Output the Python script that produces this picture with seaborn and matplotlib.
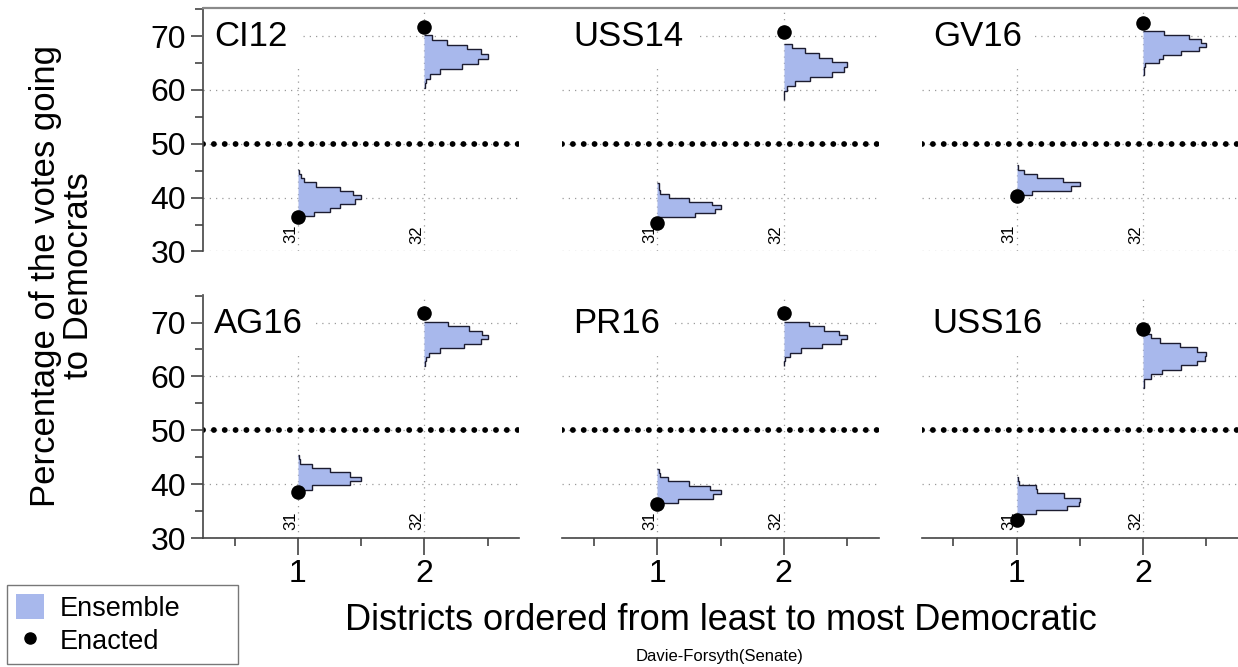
"""Ensemble vs enacted vote shares, Davie-Forsyth senate districts, six elections."""

import numpy as np
import pandas as pd
import matplotlib
matplotlib.use("Agg")
import matplotlib.pyplot as plt
from matplotlib.patches import Patch
from matplotlib.lines import Line2D
import seaborn as sns

# ── data ─────────────────────────────────────────────────────────────────────

ELECTIONS = ["CI12", "USS14", "GV16", "AG16", "PR16", "USS16"]
DISTRICTS = ["31", "32"]

# enacted plan, % Democratic
ENACTED_31 = [36.4, 35.2, 40.3, 38.6, 36.4, 33.3]
ENACTED_32 = [71.7, 70.8, 72.5, 71.7, 71.7, 68.8]

# ensemble histograms: vote-share range and relative bin heights (low -> high)
HIST31_RANGE = [(36.5, 45.2), (35.7, 42.8), (40.5, 46.0), (39.0, 45.4), (36.5, 42.9), (34.4, 41.4)]
HIST31 = [
    [0.25, 0.5, 0.67, 0.9, 1.0, 0.87, 0.67, 0.28, 0.1, 0.05, 0.02],
    [0.03, 0.6, 0.92, 1.0, 0.86, 0.5, 0.18, 0.04, 0.02, 0.02],
    [0.25, 0.86, 1.0, 0.73, 0.33, 0.12, 0.03],
    [0.23, 0.83, 1.0, 0.83, 0.5, 0.23, 0.04, 0.02],
    [0.33, 0.88, 1.0, 0.83, 0.5, 0.17, 0.04, 0.02],
    [0.3, 0.8, 0.98, 1.0, 0.75, 0.33, 0.3, 0.04, 0.02],
]
HIST32_RANGE = [(60.3, 70.2), (58.1, 68.6), (62.8, 71.0), (62.0, 70.1), (62.0, 70.1), (57.9, 67.9)]
HIST32 = [
    [0.01, 0.02, 0.09, 0.25, 0.6, 0.85, 1.0, 0.9, 0.68, 0.35, 0.12],
    [0.01, 0.01, 0.05, 0.18, 0.42, 0.76, 0.95, 1.0, 0.76, 0.55, 0.34, 0.13],
    [0.01, 0.01, 0.03, 0.25, 0.32, 0.6, 0.89, 1.0, 0.91, 0.73, 0.33],
    [0.01, 0.02, 0.08, 0.25, 0.62, 0.89, 1.0, 0.91, 0.7, 0.37],
    [0.01, 0.02, 0.1, 0.27, 0.6, 0.9, 1.0, 0.87, 0.64, 0.4],
    [0.01, 0.02, 0.12, 0.3, 0.6, 0.85, 0.98, 1.0, 0.85, 0.59, 0.26, 0.12],
]

HIST_COLOR = "#a8b8ec"
AX_COLOR   = "#444444"
W, H = 1238, 667

enacted = pd.DataFrame({
    "election": np.repeat(ELECTIONS, 2),
    "rank": [1, 2] * len(ELECTIONS),
    "share": [v for pair in zip(ENACTED_31, ENACTED_32) for v in pair],
})

# ── figure ───────────────────────────────────────────────────────────────────

sns.set_style("white")
plt.rcParams["font.family"] = ["Liberation Sans", "DejaVu Sans"]
plt.rcParams.update({"text.color": "black", "xtick.labelcolor": "black",
                     "ytick.labelcolor": "black"})

fig, axes = plt.subplots(2, 3, figsize=(W / 100, H / 100), dpi=100)
fig.subplots_adjust(left=203 / W, right=1.0, top=1 - 8 / H, bottom=1 - 538 / H,
                    wspace=0.136, hspace=0.177)

for i, (ax, name) in enumerate(zip(axes.flat, ELECTIONS)):
    row, col = divmod(i, 3)
    ax.set_xlim(0.25, 2.75)
    ax.set_ylim(30, 75.2)

    ax.set_yticks([30, 40, 50, 60, 70])
    ax.set_yticks([35, 45, 55, 65, 75], minor=True)
    ax.set_xticks([1, 2])
    ax.set_xticks([0.5, 1.5, 2.5], minor=True)
    ax.grid(True, which="major", linestyle=(0, (1, 4)), color="#9a9a9a", lw=0.9, zorder=0)
    ax.set_axisbelow(True)

    for s in ax.spines.values():
        s.set_visible(False)
        s.set_color(AX_COLOR)
        s.set_linewidth(1.2)
    ax.tick_params(which="both", direction="out", color=AX_COLOR, width=1.2,
                   labelsize=23, labelcolor="black")
    ax.tick_params(axis="x", which="major", length=12, pad=3)
    ax.tick_params(axis="y", which="major", length=9, pad=3)
    ax.tick_params(which="minor", length=6)
    if col == 0:
        ax.spines["left"].set_visible(True)
        ax.tick_params(axis="y", which="both", left=True)
    else:
        ax.tick_params(axis="y", which="both", left=False, labelleft=False)
    if row == 1:
        ax.spines["bottom"].set_visible(True)
        ax.tick_params(axis="x", which="both", bottom=True)
    else:
        ax.tick_params(axis="x", which="both", bottom=False, labelbottom=False)

    # 50% line
    ax.axhline(50, color="black", lw=4.2, linestyle=(0, (0.01, 1.85)),
               dash_capstyle="round", zorder=2)

    # ensemble histograms, growing to the right of each district position
    for pos, rng, heights in ((1, HIST31_RANGE[i], HIST31[i]),
                              (2, HIST32_RANGE[i], HIST32[i])):
        edges = np.linspace(rng[0], rng[1], len(heights) + 1)
        ax.stairs(pos + 0.5 * np.asarray(heights), edges, baseline=pos,
                  orientation="horizontal", fill=True, facecolor=HIST_COLOR,
                  edgecolor="#1c1c30", linewidth=1.0, zorder=3)

    sns.scatterplot(data=enacted[enacted["election"] == name], x="rank", y="share",
                    color="black", s=110, edgecolor="black", linewidth=0,
                    ax=ax, zorder=4, legend=False)
    ax.set_xlabel("")
    ax.set_ylabel("")

    for pos, lab in zip([1, 2], DISTRICTS):
        ax.text(pos, 33.2, lab, rotation=90, ha="right", va="center",
                fontsize=12, zorder=3)

    ax.text(0.035, 0.95, name, transform=ax.transAxes, ha="left", va="top",
            fontsize=25, zorder=2,
            bbox=dict(boxstyle="square,pad=0.35", facecolor="white", edgecolor="none"))

# top border across the panel block
fig.add_artist(Line2D([203 / W, 1.0], [1 - 8 / H, 1 - 8 / H], color="#8a8a8a", lw=1.6))

fig.text(721 / W, 1 - 621 / H, "Districts ordered from least to most Democratic",
         ha="center", va="center", fontsize=26)
fig.text(62 / W, 1 - 276 / H, "Percentage of the votes going\nto Democrats",
         ha="center", va="center", rotation=90, fontsize=25, linespacing=1.0)
fig.text(720 / W, 1 - 656 / H, "Davie-Forsyth(Senate)", ha="center", va="center",
         fontsize=12)

handles = [Patch(facecolor=HIST_COLOR, edgecolor="none", label="Ensemble"),
           Line2D([], [], marker="o", color="black", linestyle="none",
                  markersize=8, label="Enacted")]
leg = fig.legend(handles=handles, loc="lower left",
                 bbox_to_anchor=(7 / W, 3 / H, 231 / W, 74 / H), mode="expand",
                 fontsize=19.5, frameon=True, fancybox=False, borderaxespad=0,
                 handlelength=1.0, handleheight=1.0, handletextpad=0.6,
                 labelspacing=0.2, borderpad=0.35)
leg.get_frame().set_edgecolor("#555555")
leg.get_frame().set_linewidth(1.0)

fig.savefig("out.png", dpi=100)
